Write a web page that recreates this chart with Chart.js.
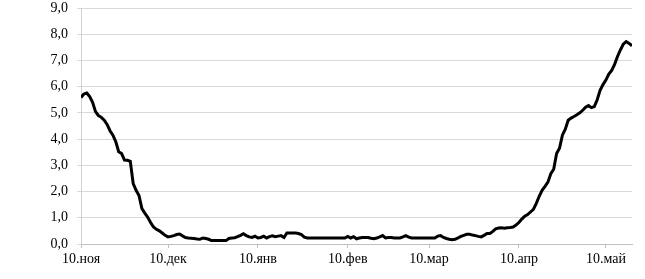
<!DOCTYPE html>
<html>
<head>
<meta charset="utf-8">
<script src="https://cdn.jsdelivr.net/npm/chart.js@4/dist/chart.umd.min.js"></script>
<style>
  html, body { margin: 0; padding: 0; background: #fff; }
  #wrap { width: 645px; height: 279px; position: relative; }
</style>
</head>
<body>
<div id="wrap"><canvas id="chart"></canvas></div>
<script>
// daily values, 10 Nov .. 19 May
const dayValues = [
  5.59, 5.72, 5.76, 5.62, 5.40, 5.05, 4.90, 4.83, 4.72, 4.56,
  4.32, 4.15, 3.90, 3.52, 3.45, 3.20, 3.19, 3.15, 2.30, 2.05,
  1.85, 1.35, 1.18, 1.02, 0.82, 0.65, 0.56, 0.50, 0.42, 0.33,
  0.27, 0.29, 0.32, 0.36, 0.38, 0.31, 0.25, 0.23, 0.22, 0.21,
  0.19, 0.18, 0.23, 0.21, 0.18, 0.13, 0.13, 0.13, 0.13, 0.13,
  0.13, 0.21, 0.23, 0.24, 0.28, 0.33, 0.39, 0.32, 0.27, 0.25,
  0.30, 0.23, 0.25, 0.30, 0.23, 0.28, 0.31, 0.28, 0.30, 0.32,
  0.25, 0.42, 0.42, 0.42, 0.42, 0.40, 0.36, 0.26, 0.23, 0.23,
  0.23, 0.23, 0.23, 0.23, 0.23, 0.23, 0.23, 0.23, 0.23, 0.23,
  0.23, 0.23, 0.29, 0.23, 0.28, 0.20, 0.23, 0.25, 0.25, 0.25,
  0.22, 0.20, 0.23, 0.27, 0.32, 0.23, 0.25, 0.25, 0.23, 0.23,
  0.23, 0.27, 0.32, 0.26, 0.23, 0.23, 0.23, 0.23, 0.23, 0.23,
  0.23, 0.23, 0.23, 0.30, 0.32, 0.25, 0.21, 0.18, 0.16, 0.18,
  0.23, 0.29, 0.33, 0.37, 0.37, 0.34, 0.32, 0.29, 0.27, 0.33,
  0.40, 0.40, 0.48, 0.58, 0.61, 0.62, 0.60, 0.62, 0.63, 0.65,
  0.72, 0.82, 0.95, 1.06, 1.12, 1.22, 1.32, 1.55, 1.82, 2.05,
  2.20, 2.36, 2.68, 2.85, 3.45, 3.65, 4.15, 4.38, 4.72, 4.80,
  4.86, 4.93, 5.00, 5.10, 5.22, 5.28, 5.20, 5.24, 5.50, 5.86,
  6.08, 6.25, 6.48, 6.62, 6.85, 7.15, 7.40, 7.62, 7.72, 7.65,
  7.56
];

// day offsets (from 10 Nov) where the labels go
const tickDays = [0, 30, 61, 92, 120, 151, 181];
const tickLabels = ['10.ноя', '10.дек', '10.янв', '10.фев', '10.мар', '10.апр', '10.май'];

Chart.defaults.font.family = '"Liberation Serif", "Times New Roman", serif';
Chart.defaults.font.size = 14;
Chart.defaults.color = '#000';

const ctx = document.getElementById('chart').getContext('2d');
new Chart(ctx, {
  type: 'line',
  data: {
    datasets: [{
      data: dayValues.map((v, i) => ({ x: i, y: v })),
      borderColor: '#000',
      borderWidth: 3,
      pointRadius: 0,
      tension: 0,
      fill: false
    }]
  },
  options: {
    responsive: true,
    maintainAspectRatio: false,
    animation: false,
    layout: { padding: { top: 8, right: 13, bottom: 0, left: 0 } },
    plugins: { legend: { display: false }, tooltip: { enabled: false } },
    scales: {
      x: {
        type: 'linear',
        min: 0,
        max: dayValues.length - 1,
        afterBuildTicks: axis => { axis.ticks = tickDays.map(d => ({ value: d })); },
        afterFit: axis => { axis.height = 35; axis.paddingLeft = 0; axis.paddingRight = 0; },
        ticks: {
          autoSkip: false,
          maxRotation: 0,
          padding: 3,
          callback: (val, i) => tickLabels[i]
        },
        grid: { drawOnChartArea: false, tickLength: 4, color: '#bfbfbf' },
        border: { color: '#bfbfbf' }
      },
      y: {
        min: 0,
        max: 9,
        afterFit: axis => { axis.width = 81; axis.paddingTop = 0; axis.paddingBottom = 0; },
        ticks: {
          stepSize: 1,
          padding: 9,
          callback: v => v.toFixed(1).replace('.', ',')
        },
        grid: { color: '#d9d9d9', tickLength: 4 },
        border: { color: '#d0d0d0' }
      }
    }
  }
});
</script>
</body>
</html>
